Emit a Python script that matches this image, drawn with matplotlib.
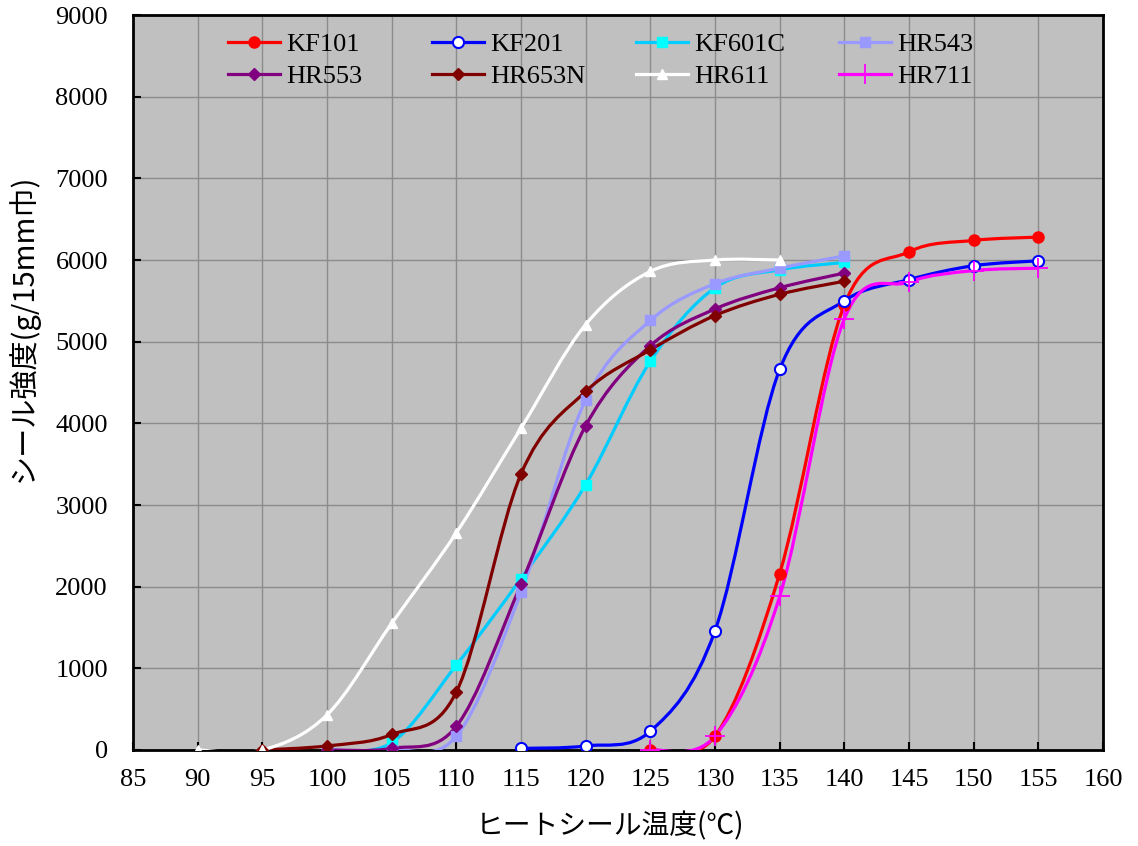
import matplotlib
matplotlib.use("Agg")
import matplotlib.pyplot as plt
from matplotlib.path import Path
from matplotlib.patches import PathPatch
from matplotlib.lines import Line2D

# data
names = ["KF101", "KF201", "KF601C", "HR543", "HR553", "HR653N", "HR611", "HR711"]

x_kf101 = [125, 130, 135, 140, 145, 150, 155]
y_kf101 = [0, 170, 2160, 5450, 6100, 6240, 6280]

x_kf201 = [115, 120, 125, 130, 135, 140, 145, 150, 155]
y_kf201 = [20, 50, 230, 1460, 4660, 5500, 5760, 5930, 5990]

x_kf601c = [100, 105, 110, 115, 120, 125, 130, 135, 140]
y_kf601c = [0, 90, 1040, 2100, 3250, 4760, 5660, 5880, 5970]

x_hr543 = [100, 105, 110, 115, 120, 125, 130, 135, 140]
y_hr543 = [0, 0, 170, 1930, 4290, 5260, 5710, 5900, 6050]

x_hr553 = [100, 105, 110, 115, 120, 125, 130, 135, 140]
y_hr553 = [0, 20, 290, 2030, 3970, 4950, 5400, 5660, 5840]

x_hr653n = [95, 100, 105, 110, 115, 120, 125, 130, 135, 140]
y_hr653n = [0, 50, 190, 710, 3380, 4390, 4900, 5320, 5580, 5740]

x_hr611 = [90, 95, 100, 105, 110, 115, 120, 125, 130, 135]
y_hr611 = [0, 0, 430, 1550, 2660, 3940, 5210, 5860, 6000, 6000]

x_hr711 = [125, 130, 135, 140, 145, 150, 155]
y_hr711 = [0, 170, 1880, 5280, 5730, 5870, 5900]

xs = [x_kf101, x_kf201, x_kf601c, x_hr543, x_hr553, x_hr653n, x_hr611, x_hr711]
ys = [y_kf101, y_kf201, y_kf601c, y_hr543, y_hr553, y_hr653n, y_hr611, y_hr711]

# (line colour, marker, marker face, marker edge, marker size, marker edge width)
styles = [
    ("#FF0000", "o", "#FF0000", "#FF0000", 8, 1),
    ("#0000FF", "o", "white", "#0000FF", 8, 1.5),
    ("#00CCFF", "s", "#00FFFF", "#00FFFF", 7.5, 1),
    ("#9999FF", "s", "#9999FF", "#9999FF", 7.5, 1),
    ("#800080", "D", "#800080", "#800080", 6, 1),
    ("#800000", "D", "#800000", "#800000", 6, 1),
    ("#FFFFFF", "^", "#FFFFFF", "#FFFFFF", 7.5, 1),
    ("#FF00FF", "+", "#FF00FF", "#FF00FF", 14, 1.3),
]

x_ticks = list(range(85, 161, 5))
y_ticks = list(range(0, 9001, 1000))


def smooth_path(x, y):
    # Excel-like smoothed line: cubic Bezier through the points (Catmull-Rom)
    pts = list(zip(x, y))
    n = len(pts)
    verts = [pts[0]]
    codes = [Path.MOVETO]
    for i in range(n - 1):
        p0 = pts[i - 1] if i > 0 else pts[i]
        p1 = pts[i]
        p2 = pts[i + 1]
        p3 = pts[i + 2] if i + 2 < n else pts[i + 1]
        c1 = (p1[0] + (p2[0] - p0[0]) / 6, p1[1] + (p2[1] - p0[1]) / 6)
        c2 = (p2[0] - (p3[0] - p1[0]) / 6, p2[1] - (p3[1] - p1[1]) / 6)
        verts += [c1, c2, p2]
        codes += [Path.CURVE4] * 3
    return Path(verts, codes)


fig = plt.figure(figsize=(11.38, 8.46), dpi=100)
ax = fig.add_axes([133 / 1138, 1 - 750 / 846, 970 / 1138, 735 / 846])
ax.set_facecolor("#C0C0C0")

handles = []
for x, y, name, st in zip(xs, ys, names, styles):
    lc, mk, mfc, mec, ms, mew = st
    ax.add_patch(PathPatch(smooth_path(x, y), facecolor="none", edgecolor=lc,
                           lw=2.3, transform=ax.transData, zorder=3))
    ax.plot(x, y, ls="none", marker=mk, ms=ms, mfc=mfc, mec=mec, mew=mew, zorder=4)
    handles.append(Line2D([], [], color=lc, lw=2.3, marker=mk, ms=ms, mfc=mfc,
                          mec=mec, mew=mew, label=name))

ax.set_xlim(85, 160)
ax.set_ylim(0, 9000)
ax.set_xticks(x_ticks)
ax.set_yticks(y_ticks)
ax.grid(True, color="#8C8C8C", lw=1)
ax.set_axisbelow(True)
for sp in ax.spines.values():
    sp.set_linewidth(2)
    sp.set_color("black")

ax.tick_params(direction="in", length=6, width=1.5, labelsize=19, colors="black")
ax.tick_params(axis="y", pad=18)
ax.tick_params(axis="x", pad=14)
for lab in ax.get_xticklabels() + ax.get_yticklabels():
    lab.set_family("Liberation Serif")

jp = ["Noto Sans CJK JP", "DejaVu Sans"]
ax.set_xlabel("ヒートシール温度(℃)", family=jp, fontsize=20)
ax.xaxis.set_label_coords(0.492, -0.083)
ax.set_ylabel("シール強度(g/15mm巾)", family=jp, fontsize=21)
ax.yaxis.set_label_coords(-0.097, 0.575)

# legend: 2 rows x 4 columns of equal width, no frame
col_left = [228, 432, 636, 839]
legends = []
for j in range(4):
    lg = ax.legend([handles[j], handles[j + 4]], [names[j], names[j + 4]],
                   loc="upper left", bbox_to_anchor=(col_left[j] / 1138, 1 - 33 / 846),
                   bbox_transform=fig.transFigure, frameon=False,
                   prop={"family": "Liberation Serif", "size": 19},
                   handlelength=1.97, handletextpad=0.25, labelspacing=0.3,
                   borderpad=0, borderaxespad=0)
    legends.append(lg)
for lg in legends[:-1]:
    ax.add_artist(lg)

fig.savefig("out.png", dpi=100)
